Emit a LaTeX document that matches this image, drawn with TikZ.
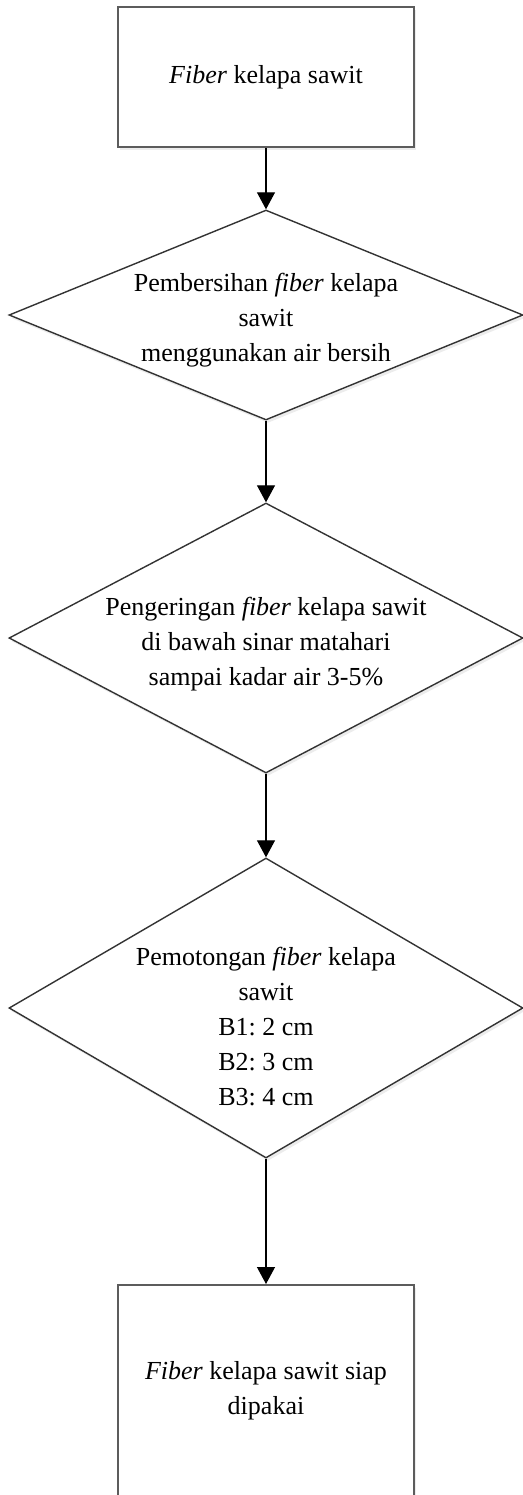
\documentclass[tikz,border=0pt]{standalone}
\usepackage{fontspec}
\setmainfont{Liberation Serif}
\usepackage{tikz}
\usepackage{xcolor}
\usetikzlibrary{shapes.geometric,arrows.meta,shadows}
\definecolor{boxgray}{HTML}{5C5C5C}
\definecolor{diagray}{HTML}{333333}
\frenchspacing

\begin{document}
\begin{tikzpicture}[x=0.5pt,y=-0.5pt]
        \tikzstyle{every node}=[font=\fontsize{13}{17.5}\selectfont, align=center]
        \tikzstyle{process}=[rectangle, draw=boxgray, line width=1pt, fill=white, minimum width=148pt,
            drop shadow={opacity=0.15, shadow xshift=1pt, shadow yshift=-1.5pt}]
        \tikzstyle{decision}=[diamond, draw=diagray, line width=0.7pt, fill=white, aspect=1.9,
            inner sep=-20pt, minimum width=257pt,
            drop shadow={opacity=0.15, shadow xshift=1pt, shadow yshift=-1.5pt}]
        \tikzstyle{flow}=[draw=black, line width=0.6pt, -{Triangle[width=9pt,length=8.5pt]}]
        \useasboundingbox (0,0) rectangle (523,1495);
        % Steps
        \node[process, minimum height=70pt] (raw) at (266,77) {\textit{Fiber} kelapa sawit};
        \node[decision, minimum height=105pt] (wash) at (266,315)
            {\rule{0pt}{14pt}Pembersihan \textit{fiber} kelapa\\ sawit\\ menggunakan air bersih};
        \node[decision, minimum height=135pt] (dry) at (266,638)
            {\rule{0pt}{15pt}Pengeringan \textit{fiber} kelapa sawit\\ di bawah sinar matahari\\ sampai kadar air 3-5\%};
        \node[decision, minimum height=150pt] (cut) at (266,1008)
            {\rule{0pt}{28pt}Pemotongan \textit{fiber} kelapa\\ sawit\\ B1: 2 cm\\ B2: 3 cm\\ B3: 4 cm};
        \node[process, minimum height=106pt] (ready) at (266,1391) {\textit{Fiber} kelapa sawit siap\\ dipakai};
        % Arrows
        \draw[flow] (raw)--(wash);
        \draw[flow] (wash)--(dry);
        \draw[flow] (dry)--(cut);
        \draw[flow] (cut)--(ready);
    \end{tikzpicture}
\end{document}
